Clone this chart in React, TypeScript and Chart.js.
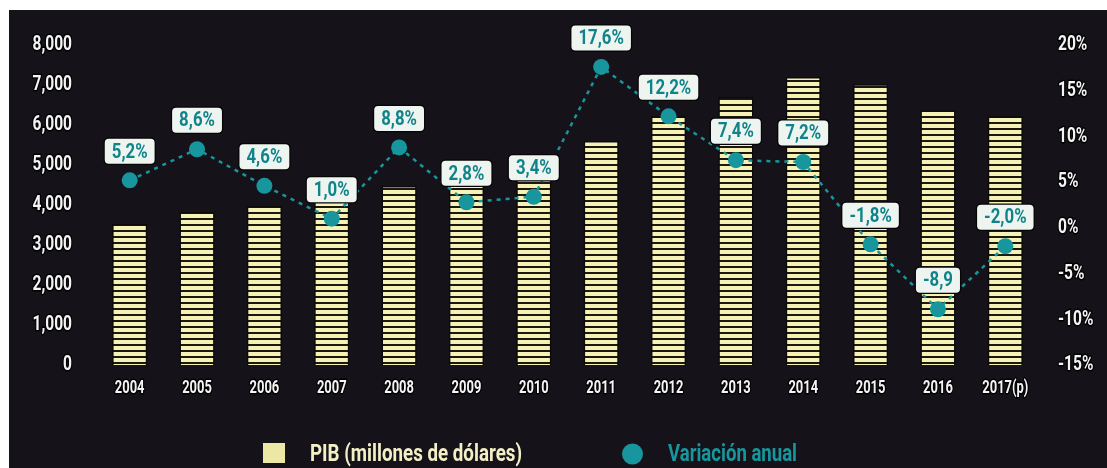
import React, { useEffect, useRef } from "react";
import { Chart, registerables } from "chart.js";

Chart.register(...registerables);

const categories = ["2004", "2005", "2006", "2007", "2008", "2009", "2010", "2011", "2012", "2013", "2014", "2015", "2016", "2017(p)"];
const pibValues = [3525, 3825, 3975, 4150, 4475, 4550, 4800, 5600, 6220, 6700, 7200, 7020, 6370, 6220];
const variationValues = [5.2, 8.6, 4.6, 1.0, 8.8, 2.8, 3.4, 17.6, 12.2, 7.4, 7.2, -1.8, -8.9, -2.0];
const variationLabels = ["5,2%", "8,6%", "4,6%", "1,0%", "8,8%", "2,8%", "3,4%", "17,6%", "12,2%", "7,4%", "7,2%", "-1,8%", "-8,9", "-2,0%"];
const leftTickValues = [0, 1000, 2000, 3000, 4000, 5000, 6000, 7000, 8000];
const leftTickLabels = ["0", "1,000", "2,000", "3,000", "4,000", "5,000", "6,000", "7,000", "8,000"];
const rightTickValues = [-15, -10, -5, 0, 5, 10, 15, 20];
const rightTickLabels = ["-15%", "-10%", "-5%", "0%", "5%", "10%", "15%", "20%"];
const seriesNames = ["PIB (millones de dólares)", "Variación anual"];

const FONT = "Roboto, 'Noto Sans', sans-serif";
const BG = "#15121a";
const YELLOW = "#f6f1b4";
const TEAL = "#17979d";
const TEAL_TEXT = "#10838a";
const WHITE = "#f4f4f4";

function makeStripePattern(): CanvasPattern | string {
  const c = document.createElement("canvas");
  c.width = 8;
  c.height = 6;
  const ctx = c.getContext("2d");
  if (!ctx) return YELLOW;
  ctx.fillStyle = YELLOW;
  ctx.fillRect(0, 0, 8, 6);
  ctx.fillStyle = "#1b1812";
  ctx.fillRect(0, 4, 8, 2);
  return ctx.createPattern(c, "repeat") || YELLOW;
}

function roundRect(ctx: CanvasRenderingContext2D, x: number, y: number, w: number, h: number, r: number) {
  ctx.beginPath();
  ctx.moveTo(x + r, y);
  ctx.lineTo(x + w - r, y);
  ctx.quadraticCurveTo(x + w, y, x + w, y + r);
  ctx.lineTo(x + w, y + h - r);
  ctx.quadraticCurveTo(x + w, y + h, x + w - r, y + h);
  ctx.lineTo(x + r, y + h);
  ctx.quadraticCurveTo(x, y + h, x, y + h - r);
  ctx.lineTo(x, y + r);
  ctx.quadraticCurveTo(x, y, x + r, y);
  ctx.closePath();
}

// draws horizontally condensed text; align: 'left' | 'center' | 'right'
function narrowText(
  ctx: CanvasRenderingContext2D,
  text: string,
  x: number,
  y: number,
  font: string,
  sx: number,
  align: "left" | "center" | "right",
  color: string,
  outline = false
) {
  ctx.save();
  ctx.font = font;
  ctx.textBaseline = "middle";
  ctx.textAlign = "left";
  const w = ctx.measureText(text).width * sx;
  let left = x;
  if (align === "center") left = x - w / 2;
  if (align === "right") left = x - w;
  ctx.translate(left, y);
  ctx.scale(sx, 1);
  if (outline) {
    ctx.lineWidth = 3;
    ctx.strokeStyle = "#000";
    ctx.lineJoin = "round";
    ctx.strokeText(text, 0, 0);
  }
  ctx.fillStyle = color;
  ctx.fillText(text, 0, 0);
  ctx.restore();
  return w;
}

function fitText(ctx: CanvasRenderingContext2D, text: string, x: number, y: number, font: string, width: number, color: string) {
  ctx.save();
  ctx.font = font;
  const m = ctx.measureText(text).width;
  ctx.restore();
  narrowText(ctx, text, x, y, font, width / m, "left", color);
}

const axisTextPlugin = {
  id: "axisText",
  afterDraw(chart: any) {
    const ctx: CanvasRenderingContext2D = chart.ctx;
    const { x, y, y1 } = chart.scales;
    const tickFont = `bold 21px ${FONT}`;
    leftTickValues.forEach((v, i) => {
      narrowText(ctx, leftTickLabels[i], 63, y.getPixelForValue(v), tickFont, 0.74, "right", WHITE, true);
    });
    rightTickValues.forEach((v, i) => {
      narrowText(ctx, rightTickLabels[i], 1049, y1.getPixelForValue(v), tickFont, 0.74, "left", WHITE, true);
    });
    categories.forEach((c, i) => {
      narrowText(ctx, c, x.getPixelForValue(i), 378, `bold 18px ${FONT}`, 0.72, "center", WHITE, true);
    });
  },
};

const labelBoxPlugin = {
  id: "labelBoxes",
  afterDatasetsDraw(chart: any) {
    const ctx: CanvasRenderingContext2D = chart.ctx;
    const meta = chart.getDatasetMeta(1);
    const font = `bold 21px ${FONT}`;
    const sx = 0.8;
    meta.data.forEach((pt: any, i: number) => {
      const text = variationLabels[i];
      ctx.save();
      ctx.font = font;
      const tw = ctx.measureText(text).width * sx;
      ctx.restore();
      const w = tw + 14;
      const h = 25;
      const cx = pt.x;
      const cy = pt.y - 29;
      ctx.save();
      roundRect(ctx, cx - w / 2, cy - h / 2, w, h, 4);
      ctx.fillStyle = "#eef5f1";
      ctx.strokeStyle = "#050505";
      ctx.lineWidth = 2.5;
      ctx.stroke();
      ctx.fill();
      ctx.restore();
      narrowText(ctx, text, cx, cy + 1, font, sx, "center", TEAL_TEXT);
    });
  },
};

const legendPlugin = {
  id: "customLegend",
  afterDraw(chart: any) {
    const ctx: CanvasRenderingContext2D = chart.ctx;
    ctx.save();
    ctx.fillStyle = "#ece7a4";
    ctx.fillRect(254, 433, 22, 20);
    ctx.fillStyle = TEAL;
    ctx.beginPath();
    ctx.arc(623.5, 444, 10.5, 0, Math.PI * 2);
    ctx.fill();
    ctx.restore();
    fitText(ctx, seriesNames[0], 301, 445, `bold 23px ${FONT}`, 212, "#f4f0c6");
    fitText(ctx, seriesNames[1], 659, 445, `bold 23px ${FONT}`, 129, TEAL);
  },
};

export default function App() {
  const ref = useRef<HTMLCanvasElement | null>(null);

  useEffect(() => {
    if (!ref.current) return;
    const pattern = makeStripePattern();
    const chart = new Chart(ref.current, {
      type: "bar",
      data: {
        labels: categories,
        datasets: [
          {
            type: "bar",
            label: seriesNames[0],
            data: pibValues,
            backgroundColor: pattern as any,
            borderColor: "#0b0a08",
            borderWidth: 1.5,
            yAxisID: "y",
            order: 2,
            barPercentage: 0.6,
            categoryPercentage: 0.87,
          },
          {
            type: "line",
            label: seriesNames[1],
            data: variationValues,
            borderColor: TEAL,
            backgroundColor: TEAL,
            borderWidth: 2.5,
            borderDash: [4, 5],
            pointRadius: 8,
            pointBackgroundColor: TEAL,
            pointBorderColor: TEAL,
            pointBorderWidth: 0,
            tension: 0,
            yAxisID: "y1",
            order: 1,
          },
        ],
      },
      options: {
        responsive: false,
        animation: false,
        layout: { padding: { top: 35, bottom: 0, left: 0, right: 0 } },
        plugins: {
          legend: { display: false },
          tooltip: { enabled: false },
        },
        scales: {
          x: {
            grid: { display: false, drawTicks: false },
            border: { display: false },
            ticks: { display: false },
            afterFit(scale: any) {
              scale.height = 103;
            },
          },
          y: {
            position: "left",
            min: 0,
            max: 8000,
            grid: { display: false, drawTicks: false },
            border: { display: false },
            ticks: { display: false, stepSize: 1000 },
            afterFit(scale: any) {
              scale.width = 87;
            },
          },
          y1: {
            position: "right",
            min: -15,
            max: 20,
            grid: { display: false, drawTicks: false },
            border: { display: false },
            ticks: { display: false, stepSize: 5 },
            afterFit(scale: any) {
              scale.width = 68;
            },
          },
        },
      } as any,
      plugins: [labelBoxPlugin, axisTextPlugin, legendPlugin],
    });
    return () => chart.destroy();
  }, []);

  return (
    <div style={{ position: "absolute", left: 9, top: 10, width: 1098, height: 458, background: BG }}>
      <canvas ref={ref} width={1098} height={458} style={{ display: "block" }} />
    </div>
  );
}
